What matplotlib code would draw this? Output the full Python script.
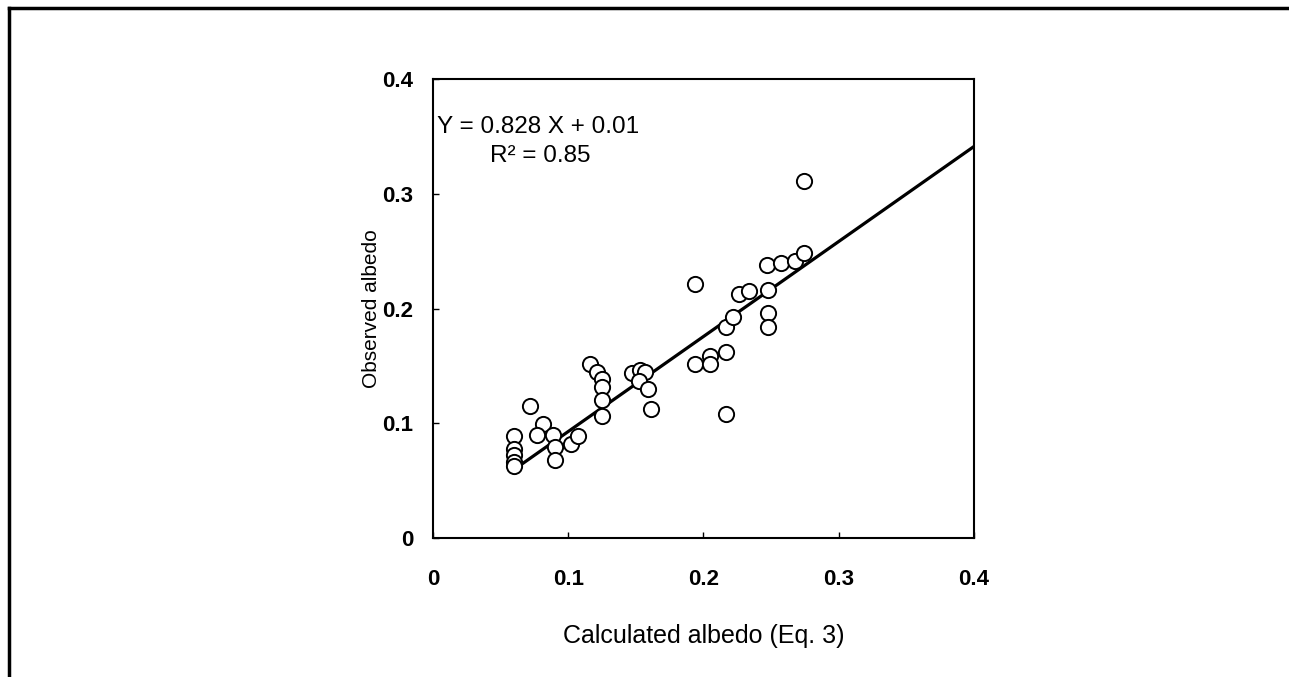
import numpy as np
import matplotlib
matplotlib.use("Agg")
import matplotlib.pyplot as plt
from matplotlib.lines import Line2D

# observed vs calculated albedo
calc_albedo = [0.060, 0.060, 0.060, 0.060, 0.060,
               0.072,
               0.081, 0.077, 0.089, 0.090, 0.090,
               0.102, 0.107,
               0.116, 0.121, 0.125, 0.125, 0.125, 0.125,
               0.147, 0.153, 0.157, 0.152, 0.159, 0.161,
               0.194, 0.194, 0.205, 0.205, 0.217, 0.222, 0.217, 0.217,
               0.226, 0.234, 0.248, 0.248, 0.248, 0.247, 0.257, 0.268, 0.274, 0.274]
obs_albedo = [0.089, 0.078, 0.072, 0.066, 0.063,
              0.115,
              0.099, 0.090, 0.090, 0.079, 0.068,
              0.082, 0.089,
              0.152, 0.145, 0.139, 0.132, 0.120, 0.106,
              0.144, 0.146, 0.145, 0.137, 0.130, 0.112,
              0.221, 0.152, 0.159, 0.152, 0.184, 0.193, 0.162, 0.108,
              0.213, 0.215, 0.216, 0.196, 0.184, 0.238, 0.240, 0.241, 0.248, 0.311]

slope = 0.828
intercept = 0.01
fit_range = [0.06, 0.4]
ticks = [0, 0.1, 0.2, 0.3, 0.4]
tick_labels = ["0", "0.1", "0.2", "0.3", "0.4"]

plt.rcParams["font.family"] = ["Liberation Sans", "DejaVu Sans"]

fig = plt.figure(figsize=(12.89, 6.77), dpi=100)
ax = fig.add_axes([0.3359, 0.2053, 0.4197, 0.6780])

ax.scatter(calc_albedo, obs_albedo, s=120, facecolors="white",
           edgecolors="black", linewidths=1.4, zorder=3)

fx = np.array(fit_range)
ax.plot(fx, slope * fx + intercept, color="black", linewidth=2.3, zorder=2)

ax.set_xlim(0, 0.4)
ax.set_ylim(0, 0.4)
ax.set_xticks(ticks)
ax.set_xticklabels(tick_labels)
ax.set_yticks(ticks)
ax.set_yticklabels(tick_labels)
ax.tick_params(direction="in", length=4, width=1, labelsize=16, pad=14)
ax.tick_params(axis="x", pad=22)
for lab in ax.get_xticklabels() + ax.get_yticklabels():
    lab.set_fontweight("bold")
for sp in ax.spines.values():
    sp.set_linewidth(1.5)

ax.set_xlabel("Calculated albedo (Eq. 3)", fontsize=18, labelpad=25)
ax.set_ylabel("Observed albedo", fontsize=15, labelpad=1)

ax.text(0.003, 0.358, "Y = 0.828 X + 0.01", fontsize=17.5, ha="left", va="center")
ax.text(0.042, 0.333, "R\u00b2 = 0.85", fontsize=17.5, ha="left", va="center")

# partial page frame (top and left edges only)
fig.add_artist(Line2D([9 / 1289, 9 / 1289], [0, 1 - 8 / 677],
                      transform=fig.transFigure, color="black", linewidth=2.5))
fig.add_artist(Line2D([9 / 1289, 1], [1 - 8 / 677, 1 - 8 / 677],
                      transform=fig.transFigure, color="black", linewidth=2.5))

fig.savefig("out.png", dpi=100)
